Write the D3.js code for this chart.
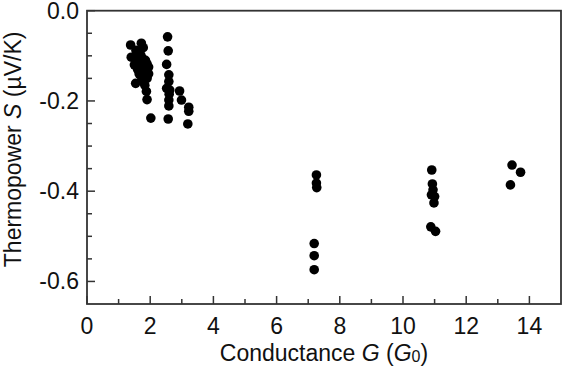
<!DOCTYPE html>
<html><head><meta charset="utf-8">
<script src="https://cdn.jsdelivr.net/npm/d3@7"></script>
<style>body{margin:0;background:#fff}svg{display:block}text{font-family:"Liberation Sans",Arial,sans-serif}</style>
</head><body><svg id="c" width="563" height="368"></svg>
<script>
// Conductance G (G0)
const conductance = [
  1.38,1.40,1.72,1.78,1.55,1.60,1.70,1.75,1.85,1.62,1.80,1.90,1.68,1.75,1.85,1.95,1.65,1.80,1.90,1.72,1.95,1.54,1.88,1.90,2.02,1.83,1.60,1.50,
  2.55,2.57,2.52,2.59,2.59,2.52,2.62,2.59,2.59,2.57,2.60,
  2.93,2.99,3.22,3.22,3.19,
  7.19,7.19,7.19,7.26,7.26,7.27,
  10.91,10.93,10.95,10.90,11.00,10.98,10.88,11.03,
  13.45,13.72,13.40
];
// Thermopower S (µV/K)
const thermopower = [
  -0.076,-0.103,-0.072,-0.082,-0.088,-0.100,-0.098,-0.105,-0.110,-0.115,-0.120,-0.118,-0.125,-0.130,-0.135,-0.125,-0.140,-0.145,-0.150,-0.155,-0.140,-0.161,-0.179,-0.197,-0.238,-0.165,-0.130,-0.120,
  -0.058,-0.089,-0.119,-0.142,-0.157,-0.172,-0.176,-0.198,-0.211,-0.240,-0.185,
  -0.178,-0.198,-0.214,-0.223,-0.251,
  -0.516,-0.543,-0.574,-0.364,-0.382,-0.392,
  -0.353,-0.384,-0.397,-0.408,-0.412,-0.426,-0.479,-0.489,
  -0.342,-0.358,-0.386
];
const xTickLabels = [0,2,4,6,8,10,12,14];
const yTickLabels = [0.0,-0.2,-0.4,-0.6];

const svg = d3.select("#c");
const L=87, R=561, T=10.7, B=304;
const x = d3.scaleLinear().domain([0,15]).range([L,R]);
const y = d3.scaleLinear().domain([-0.65,0]).range([B,T]);
const axisColor = "#333";

// minor + major ticks (inward)
const xMinor = d3.range(0,15,1);
const yMinor = d3.range(0,-0.65,-0.05).map(v=>+v.toFixed(2));
const g = svg.append("g");
g.selectAll(".xt").data(xMinor).join("line")
  .attr("x1",d=>x(d)).attr("x2",d=>x(d))
  .attr("y1",B).attr("y2",d=>B-(d%2===0?8:5))
  .attr("stroke",axisColor).attr("stroke-width",1.5);
g.selectAll(".yt").data(yMinor).join("line")
  .attr("y1",d=>y(d)).attr("y2",d=>y(d))
  .attr("x1",L).attr("x2",d=>L+(Math.abs(Math.round(d*100))%20===0?8:5))
  .attr("stroke",axisColor).attr("stroke-width",1.5);

// frame
svg.append("rect").attr("x",L).attr("y",T).attr("width",R-L).attr("height",B-T)
  .attr("fill","none").attr("stroke",axisColor).attr("stroke-width",1.8);

// tick labels
svg.selectAll(".xl").data(xTickLabels).join("text")
  .attr("x",d=>x(d)).attr("y",334).attr("text-anchor","middle")
  .attr("font-size",23).attr("fill","#111").text(d=>d);
svg.selectAll(".yl").data(yTickLabels).join("text")
  .attr("x",79).attr("y",d=>y(d)+8).attr("text-anchor","end")
  .attr("font-size",23).attr("fill","#111").text(d=>d3.format(".1f")(d).replace("−","-"));

// axis titles
const xt = svg.append("text").attr("x",(L+R)/2).attr("y",361).attr("text-anchor","middle")
  .attr("font-size",23).attr("fill","#111");
xt.append("tspan").text("Conductance ");
xt.append("tspan").attr("font-style","italic").text("G");
xt.append("tspan").text(" (");
xt.append("tspan").attr("font-style","italic").text("G");
xt.append("tspan").attr("font-size",16).attr("dy",1).text("0");
xt.append("tspan").attr("dy",-1).text(")");

const yt = svg.append("text").attr("transform",`translate(21,${(T+B)/2-8}) rotate(-90)`)
  .attr("text-anchor","middle").attr("font-size",23).attr("fill","#111");
yt.append("tspan").text("Thermopower ");
yt.append("tspan").attr("font-style","italic").text("S");
yt.append("tspan").text(" (µV/K)");

// points
const pts = conductance.map((c,i)=>({c, s:thermopower[i]}));
svg.append("g").selectAll("circle").data(pts).join("circle")
  .attr("cx",d=>x(d.c)).attr("cy",d=>y(d.s)).attr("r",4.8).attr("fill","#000");
</script></body></html>
